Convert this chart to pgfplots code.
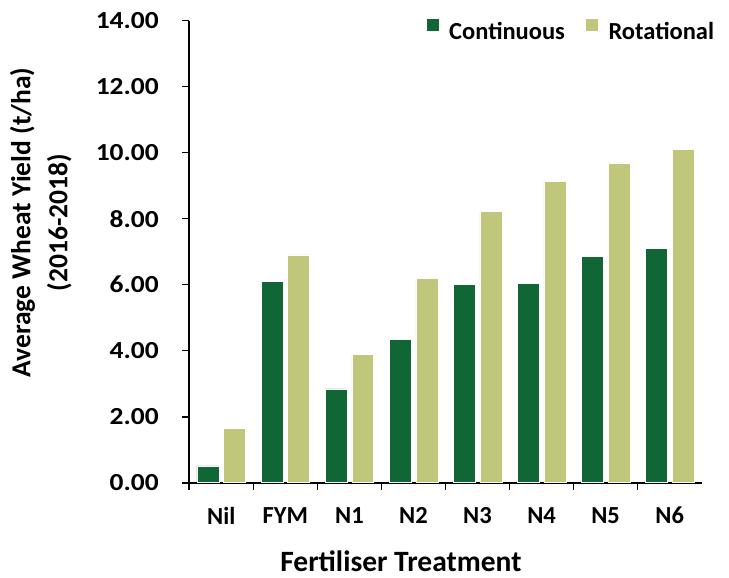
\documentclass[border=0pt]{standalone}
\usepackage{fontspec}
\setmainfont{Carlito}
\newfontfamily\ytickfont{Carlito}[FakeStretch=1.12]
\usepackage{pgfplots}
\pgfplotsset{compat=1.18}
\definecolor{cont}{RGB}{16,103,53}
\definecolor{rota}{RGB}{192,198,122}
\begin{document}
\begin{tikzpicture}
\useasboundingbox (-189.3bp,-95.3bp) rectangle (539.7bp,482.7bp);
\begin{axis}[
  at={(0,0)}, anchor=south west,
  scale only axis, width=512.4bp, height=462bp,
  ybar,
  xmin=-0.5, xmax=7.5, ymin=0, ymax=14,
  axis x line*=bottom, axis y line*=left,
  axis line style={-, line width=1.6bp, black},
  xtick={0,...,7},
  xticklabels={Nil,FYM,N1,N2,N3,N4,N5,N6},
  minor xtick={-0.5,0.5,...,6.5},
  major x tick style={draw=none},
  minor x tick style={line width=1.6bp, black},
  ytick={0,2,...,14},
  y tick style={line width=1.6bp, black},
  tick align=outside,
  major tick length=7bp, minor tick length=7bp,
  /pgf/number format/assume math mode=true,
  yticklabel={\pgfmathprintnumber[fixed, fixed zerofill, precision=2]{\tick}},
  xticklabel style={font=\fontsize{24.5bp}{28bp}\selectfont\bfseries, yshift=-14bp},
  yticklabel style={font=\fontsize{24.5bp}{28bp}\ytickfont\bfseries, xshift=-20bp},
  xlabel={Fertiliser Treatment},
  xlabel style={font=\fontsize{29.5bp}{34bp}\selectfont\bfseries, at={(axis description cs:0.413,0)}, anchor=center, yshift=-79bp},
  ylabel={Average Wheat Yield (t/ha)\\(2016-2018)},
  ylabel style={font=\fontsize{27.5bp}{37bp}\selectfont\bfseries, align=center, at={(axis description cs:-0.29,0.563)}, anchor=center},
  legend style={draw=none, fill=none, at={(axis description cs:1.024,1.005)}, anchor=north east,
    legend columns=2, font=\fontsize{24.5bp}{28bp}\selectfont\bfseries,
    nodes={inner sep=0pt},
    /tikz/every odd column/.append style={column sep=10bp},
    /tikz/every even column/.append style={column sep=20bp},
    inner sep=0pt, outer sep=0pt},
  legend image code/.code={\fill[#1] (0bp,0bp) rectangle (13bp,13bp);},
  legend cell align=left,
]
\addplot[draw=white, line width=0.6bp, fill=cont, bar width=0.343, bar shift=-0.209] coordinates {
(0,0.51) (1,6.11) (2,2.84) (3,4.35) (4,6.00) (5,6.04) (6,6.86) (7,7.10)};
\addplot[draw=white, line width=0.6bp, fill=rota, bar width=0.343, bar shift=0.209] coordinates {
(0,1.64) (1,6.90) (2,3.89) (3,6.18) (4,8.22) (5,9.12) (6,9.69) (7,10.10)};
\legend{Continuous,Rotational}
\end{axis}
\end{tikzpicture}
\end{document}
